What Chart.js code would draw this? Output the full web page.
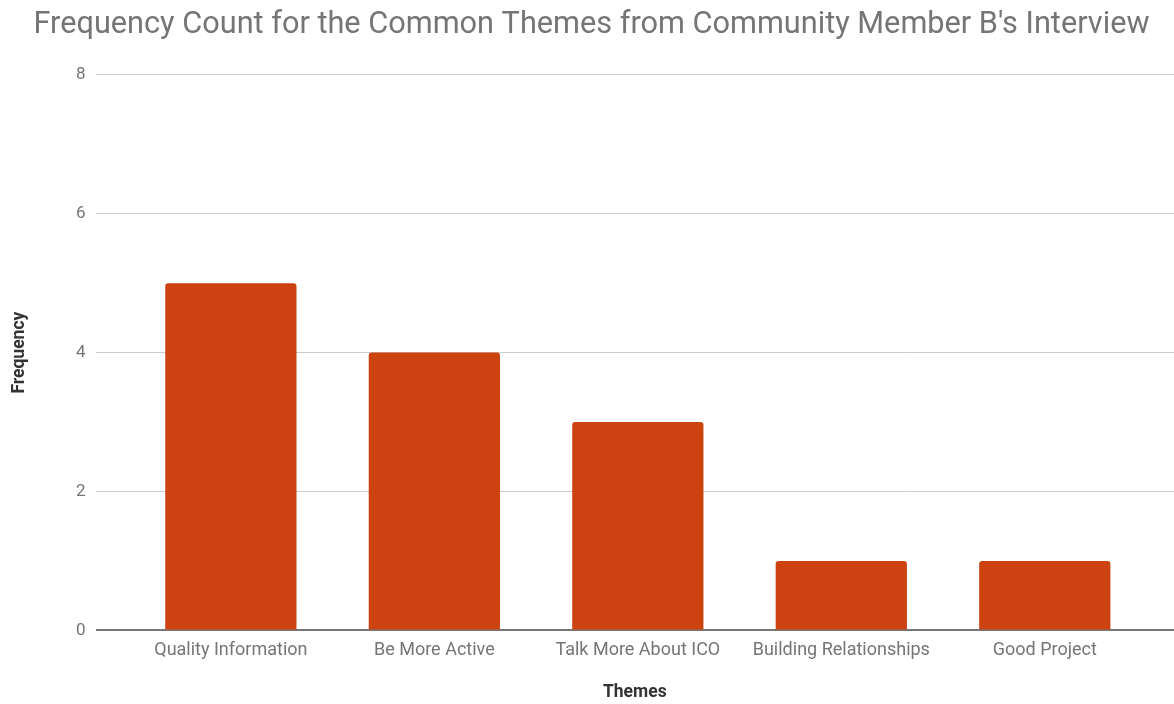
<!DOCTYPE html>
<html><head><meta charset="utf-8">
<script src="https://cdn.jsdelivr.net/npm/chart.js@4"></script>
<style>html,body{margin:0;padding:0;background:#fff;}#wrap{width:1174px;height:704px;position:relative;}</style>
</head><body><div id="wrap"><canvas id="c" width="1174" height="704"></canvas></div>
<script>
const categories = ["Quality Information", "Be More Active", "Talk More About ICO", "Building Relationships", "Good Project"];
const frequency = [5, 4, 3, 1, 1];
const yTicks = [0, 2, 4, 6, 8];

const points = categories.map((c, i) => ({x: i, y: frequency[i]}));

new Chart(document.getElementById('c'), {
  type: 'bar',
  data: { datasets: [{ label: 'Frequency', data: points, backgroundColor: '#cc4311', borderRadius: 3, borderSkipped: 'bottom', barPercentage: 0.645, categoryPercentage: 1 }] },
  options: {
    responsive: false, animation: false,
    layout: { padding: { left: 9, right: 0, top: 0, bottom: 0 } },
    plugins: {
      legend: { display: false }, tooltip: { enabled: false },
      title: { display: true, text: "Frequency Count for the Common Themes from Community Member B's Interview", align: 'center',
        color: '#757575', font: { family: 'Roboto', size: 30.7, weight: 'normal' }, padding: { top: 7, bottom: 31 } }
    },
    scales: {
      x: { type: 'linear', min: -0.665, max: 4.635, offset: false,
        afterBuildTicks: s => { s.ticks = categories.map((c, i) => ({value: i})); },
        ticks: { callback: v => categories[v], color: '#757575', font: { family: 'Roboto', size: 18 }, padding: 1, maxRotation: 0, autoSkip: false },
        grid: { display: false, offset: false }, border: { display: false },
        title: { display: true, text: 'Themes', color: '#333', font: { family: 'Roboto', size: 17.5, weight: 'bold' }, padding: { top: 20, bottom: 1 } } },
      y: { min: 0, max: 8,
        afterBuildTicks: s => { s.ticks = yTicks.map(v => ({value: v})); },
        ticks: { color: '#757575', font: { family: 'Roboto', size: 17 }, padding: 10 },
        grid: { drawTicks: false, color: c => c.tick && c.tick.value === 0 ? '#777' : '#ccc', lineWidth: c => c.tick && c.tick.value === 0 ? 2 : 1 },
        border: { display: false },
        title: { display: true, text: 'Frequency', color: '#333', font: { family: 'Roboto', size: 17.5, weight: 'bold' }, padding: { top: 0, bottom: 36 } } }
    }
  }
});
</script></body></html>
